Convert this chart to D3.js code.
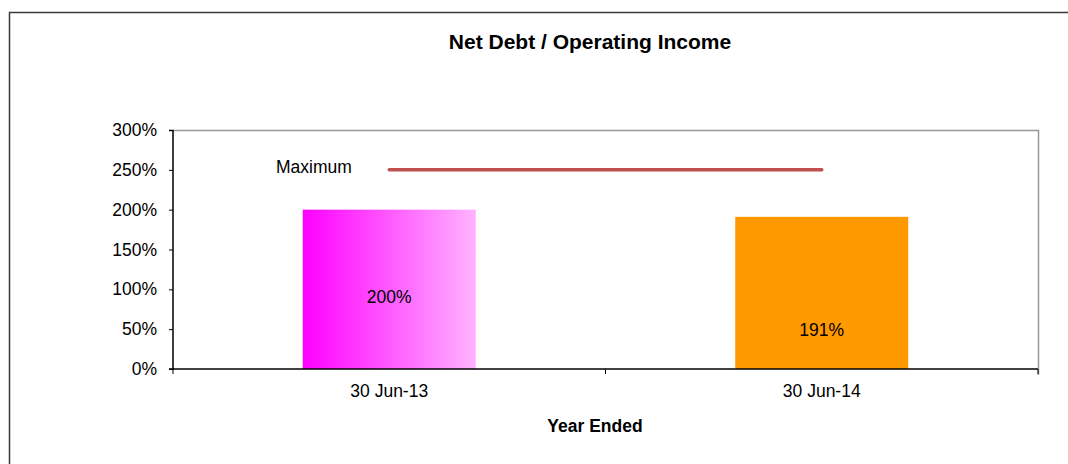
<!DOCTYPE html>
<html>
<head>
<meta charset="utf-8">
<script src="https://cdn.jsdelivr.net/npm/d3@7"></script>
<style>
  body { margin: 0; background: #fff; }
  text { font-family: "Liberation Sans", Arial, sans-serif; fill: #000; }
</style>
</head>
<body>
<div id="chart"></div>
<script>
// chart values
var categories = ["30 Jun-13", "30 Jun-14"];
var ratios = [200, 191];
var labelAt = [90, 49];          // where the value labels sit (in % units)
var maximum = 250;
var yTicks = [0, 50, 100, 150, 200, 250, 300];

var W = 1068, H = 464;
var margin = {top: 130, right: 30, bottom: 95, left: 173},
    width = 1038 - margin.left,
    height = 369 - margin.top;
var fs = "17.5px";

var svg = d3.select("#chart").append("svg")
    .attr("width", W)
    .attr("height", H);

// gradient for the first bar
var grad = svg.append("defs").append("linearGradient")
    .attr("id", "pinkGrad")
    .attr("x1", "0%").attr("x2", "100%").attr("y1", "0%").attr("y2", "0%");
grad.append("stop").attr("offset", "0%").attr("stop-color", "#ff00ff");
grad.append("stop").attr("offset", "100%").attr("stop-color", "#ffb3ff");

var fills = ["url(#pinkGrad)", "#ff9900"];

// outer frame
svg.append("path")
    .attr("d", "M9.5," + (H + 2) + "V12.5H" + (W + 2))
    .attr("fill", "none")
    .attr("stroke", "#3a3a3a")
    .attr("stroke-width", 1.5);

svg.append("text")
    .attr("x", 590)
    .attr("y", 49)
    .attr("text-anchor", "middle")
    .style("font-size", "21px")
    .style("font-weight", "bold")
    .text("Net Debt / Operating Income");

var g = svg.append("g")
    .attr("transform", "translate(" + margin.left + "," + margin.top + ")");

var x = d3.scaleBand().domain(categories).range([0, width]);
var y = d3.scaleLinear().domain([0, 300]).range([height, 0]);

// plot area top/right border
g.append("path")
    .attr("d", "M0,0.5H" + (width + 0.5) + "V" + (height + 6))
    .attr("fill", "none")
    .attr("stroke", "#999")
    .attr("stroke-width", 1.5);

var barW = x.bandwidth() * 0.4;

g.selectAll(".bar")
    .data(ratios)
    .enter().append("rect")
    .attr("class", "bar")
    .attr("x", function (d, i) { return x(categories[i]) + (x.bandwidth() - barW) / 2; })
    .attr("y", function (d) { return y(d); })
    .attr("width", barW)
    .attr("height", function (d) { return height - y(d); })
    .attr("fill", function (d, i) { return fills[i]; });

g.selectAll(".lbl")
    .data(ratios)
    .enter().append("text")
    .attr("class", "lbl")
    .attr("x", function (d, i) { return x(categories[i]) + x.bandwidth() / 2; })
    .attr("y", function (d, i) { return y(labelAt[i]); })
    .attr("dy", "0.35em")
    .attr("text-anchor", "middle")
    .style("font-size", fs)
    .text(function (d) { return d + "%"; });

// maximum line, centre of first category to centre of last
g.append("line")
    .attr("x1", x(categories[0]) + x.bandwidth() / 2)
    .attr("x2", x(categories[1]) + x.bandwidth() / 2)
    .attr("y1", y(maximum))
    .attr("y2", y(maximum))
    .attr("stroke", "#c0504d")
    .attr("stroke-width", 3.5)
    .attr("stroke-linecap", "round");

g.append("text")
    .attr("x", 103)
    .attr("y", y(maximum) - 3)
    .attr("dy", "0.35em")
    .style("font-size", fs)
    .text("Maximum");

// y axis
var yAxis = g.append("g")
    .call(d3.axisLeft(y).tickValues(yTicks).tickSize(4).tickFormat(function (d) { return d + "%"; }));
yAxis.select(".domain").attr("stroke", "#000").attr("stroke-width", 1.5).attr("d", "M-4,0.5H0V" + height + "H-4");
yAxis.selectAll(".tick line").attr("stroke", "#000");
yAxis.selectAll(".tick text")
    .attr("x", -16)
    .style("font-size", fs)
    .style("font-family", "'Liberation Sans', Arial, sans-serif")
    .attr("fill", "#000");

// x axis: ticks at category boundaries
var xAxis = g.append("g")
    .attr("transform", "translate(0," + height + ")");
xAxis.append("line")
    .attr("x1", 0).attr("x2", width)
    .attr("stroke", "#000").attr("stroke-width", 1.5);
xAxis.selectAll(".xt")
    .data([0, x.bandwidth(), width])
    .enter().append("line")
    .attr("class", "xt")
    .attr("x1", function (d) { return d; })
    .attr("x2", function (d) { return d; })
    .attr("y1", 0).attr("y2", 5)
    .attr("stroke", "#000");
xAxis.selectAll(".xl")
    .data(categories)
    .enter().append("text")
    .attr("class", "xl")
    .attr("x", function (d) { return x(d) + x.bandwidth() / 2; })
    .attr("y", 28)
    .attr("text-anchor", "middle")
    .style("font-size", fs)
    .text(function (d) { return d; });

svg.append("text")
    .attr("x", 595)
    .attr("y", 432)
    .attr("text-anchor", "middle")
    .style("font-size", fs)
    .style("font-weight", "bold")
    .text("Year Ended");
</script>
</body>
</html>
